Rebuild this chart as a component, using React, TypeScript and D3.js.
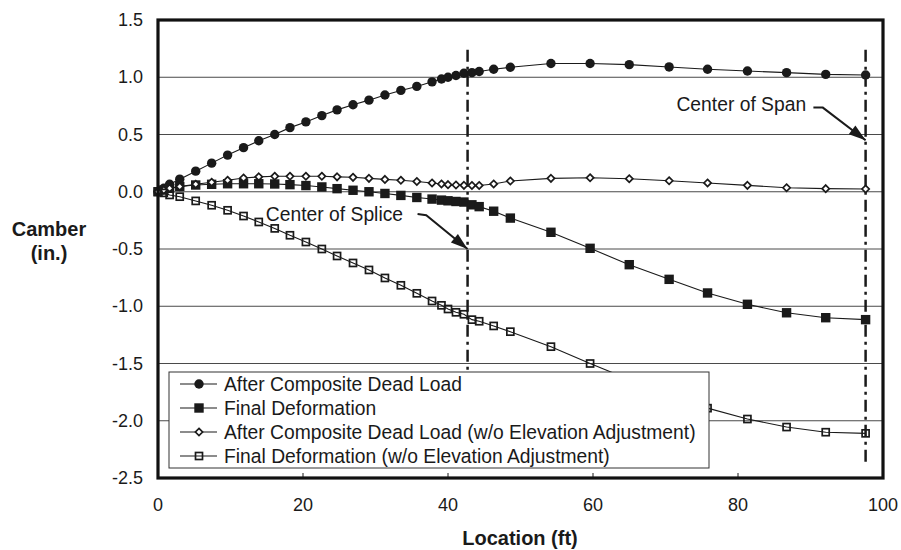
import * as d3 from "d3";

// station locations (ft) shared by all four series
const locations = [
  0, 0.8, 1.6, 3.0, 5.2, 7.4, 9.6, 11.8, 13.9, 16.1, 18.2, 20.4, 22.6, 24.7,
  26.9, 29.1, 31.3, 33.5, 35.7, 37.8, 39.1, 40.0, 41.1, 42.2, 43.3, 44.3, 46.3,
  48.6, 54.2, 59.6, 65.0, 70.5, 75.8, 81.3, 86.7, 92.1, 97.6,
];

const afterCompositeDL = [
  0.0, 0.03, 0.065, 0.11, 0.18, 0.25, 0.32, 0.385, 0.445, 0.5, 0.56, 0.61,
  0.665, 0.715, 0.76, 0.8, 0.845, 0.885, 0.92, 0.96, 0.985, 1.0, 1.015, 1.035,
  1.04, 1.05, 1.07, 1.087, 1.12, 1.12, 1.11, 1.09, 1.07, 1.055, 1.04, 1.025,
  1.02,
];

const finalDeformation = [
  0.0, 0.015, 0.03, 0.046, 0.059, 0.065, 0.07, 0.07, 0.07, 0.068, 0.062, 0.054,
  0.042, 0.027, 0.013, 0.0, -0.015, -0.032, -0.05, -0.064, -0.073, -0.079,
  -0.085, -0.09, -0.114, -0.13, -0.17, -0.23, -0.354, -0.494, -0.637, -0.765,
  -0.884, -0.983, -1.057, -1.1, -1.117,
];

const afterCompositeDLNoAdj = [
  0.0, 0.015, 0.03, 0.045, 0.066, 0.083, 0.1, 0.12, 0.13, 0.135, 0.135, 0.135,
  0.135, 0.13, 0.126, 0.117, 0.108, 0.1, 0.09, 0.077, 0.068, 0.062, 0.059,
  0.056, 0.055, 0.055, 0.068, 0.094, 0.117, 0.122, 0.114, 0.096, 0.077, 0.056,
  0.035, 0.027, 0.024,
];

const finalDeformationNoAdj = [
  0.0, -0.01, -0.028, -0.043, -0.08, -0.118, -0.162, -0.212, -0.264, -0.32,
  -0.38, -0.439, -0.5, -0.561, -0.622, -0.683, -0.753, -0.817, -0.887, -0.954,
  -0.992, -1.024, -1.053, -1.07, -1.117, -1.131, -1.172, -1.222, -1.353, -1.5,
  -1.64, -1.77, -1.89, -1.985, -2.055, -2.1, -2.11,
];

const seriesNames = [
  "After Composite Dead Load",
  "Final Deformation",
  "After Composite Dead Load (w/o Elevation Adjustment)",
  "Final Deformation (w/o Elevation Adjustment)",
];
const seriesMarkers = ["circle", "square", "diamond", "openSquare"];

const xTicks = [0, 20, 40, 60, 80, 100];
const yTicks = [1.5, 1.0, 0.5, 0.0, -0.5, -1.0, -1.5, -2.0, -2.5];

// vertical reference lines: splice and midspan
const refLines = [
  { x: 42.7, y0: 1.24, y1: -2.4 },
  { x: 97.6, y0: 1.24, y1: -2.4 },
];

// annotation callouts: label end, elbow, arrow tip (data coords)
const callouts = [
  { label: "Center of Splice", tx: 33.8, ty: -0.2, pts: [[35.8, -0.195], [37.0, -0.205], [42.7, -0.5]] },
  { label: "Center of Span", tx: 89.4, ty: 0.76, pts: [[90.4, 0.735], [91.7, 0.735], [97.6, 0.45]] },
];

const W = 901;
const H = 550;
const M = { left: 158, right: 883, top: 20, bottom: 478 };
const FONT = "'Liberation Sans', Arial, Helvetica, sans-serif";
const INK = "#1a1a1a";

function Marker({ kind, x, y }: { kind: string; x: number; y: number }) {
  if (kind === "circle") return <circle cx={x} cy={y} r={4.7} fill={INK} />;
  if (kind === "square")
    return <rect x={x - 4.7} y={y - 4.7} width={9.4} height={9.4} fill={INK} />;
  if (kind === "diamond")
    return (
      <path
        d={`M${x},${y - 3.6}L${x + 3.6},${y}L${x},${y + 3.6}L${x - 3.6},${y}Z`}
        fill="#fff"
        stroke={INK}
        strokeWidth={1.7}
      />
    );
  return (
    <rect
      x={x - 3.5}
      y={y - 3.5}
      width={7}
      height={7}
      fill="none"
      stroke={INK}
      strokeWidth={1.7}
    />
  );
}

function arrowHead(p: number[], q: number[], len = 17, half = 5.5) {
  const dx = q[0] - p[0];
  const dy = q[1] - p[1];
  const d = Math.hypot(dx, dy);
  const ux = dx / d;
  const uy = dy / d;
  const bx = q[0] - ux * len;
  const by = q[1] - uy * len;
  return `M${q[0]},${q[1]}L${bx - uy * half},${by + ux * half}L${bx + uy * half},${by - ux * half}Z`;
}

export default function App() {
  const x = d3.scaleLinear().domain([0, 100]).range([M.left, M.right]);
  const y = d3.scaleLinear().domain([-2.5, 1.5]).range([M.bottom, M.top]);

  const allSeries = [
    afterCompositeDL,
    finalDeformation,
    afterCompositeDLNoAdj,
    finalDeformationNoAdj,
  ];

  const line = d3
    .line<number>()
    .x((_, i) => x(locations[i]))
    .y((d) => y(d));

  const legend = { x: 169, y: 372, w: 540, h: 96, row: 24 };

  return (
    <svg
      width={W}
      height={H}
      style={{ position: "fixed", left: 0, top: 0, background: "#fff" }}
      fontFamily={FONT}
    >
      <rect width={W} height={H} fill="#fff" />

      {/* gridlines */}
      {yTicks.map((t) => (
        <line
          key={"g" + t}
          x1={M.left}
          x2={M.right}
          y1={y(t)}
          y2={y(t)}
          stroke="#4a4a4a"
          strokeWidth={1}
        />
      ))}

      {/* x ticks pointing inward */}
      {xTicks.slice(1, -1).map((t) => (
        <line
          key={"xt" + t}
          x1={x(t)}
          x2={x(t)}
          y1={M.bottom}
          y2={M.bottom - 5}
          stroke={INK}
          strokeWidth={1}
        />
      ))}

      {/* reference lines */}
      {refLines.map((r, i) => (
        <line
          key={"ref" + i}
          x1={x(r.x)}
          x2={x(r.x)}
          y1={y(r.y0)}
          y2={y(r.y1)}
          stroke={INK}
          strokeWidth={2.5}
          strokeDasharray="12,5,3,5"
        />
      ))}

      {/* series lines */}
      {allSeries.map((s, i) => (
        <path
          key={"l" + i}
          d={line(s) || ""}
          fill="none"
          stroke={INK}
          strokeWidth={1.1}
        />
      ))}

      {/* series markers */}
      {allSeries.map((s, i) =>
        s.map((v, j) => (
          <Marker
            key={`m${i}-${j}`}
            kind={seriesMarkers[i]}
            x={x(locations[j])}
            y={y(v)}
          />
        ))
      )}

      {/* callouts */}
      {callouts.map((c, i) => {
        const pts = c.pts.map((p) => [x(p[0]), y(p[1])]);
        const n = pts.length;
        return (
          <g key={"c" + i}>
            <text
              x={x(c.tx)}
              y={y(c.ty)}
              textAnchor="end"
              dominantBaseline="central"
              fontSize={19.3}
              fill={INK}
            >
              {c.label}
            </text>
            <path
              d={"M" + pts.map((p) => p.join(",")).join("L")}
              fill="none"
              stroke={INK}
              strokeWidth={2}
            />
            <path d={arrowHead(pts[n - 2], pts[n - 1])} fill={INK} />
          </g>
        );
      })}

      {/* legend */}
      <rect
        x={legend.x}
        y={legend.y}
        width={legend.w}
        height={legend.h}
        fill="#fff"
        stroke="#333"
        strokeWidth={1}
      />
      {seriesNames.map((name, i) => {
        const cy = legend.y + 12 + i * legend.row;
        return (
          <g key={"lg" + i}>
            <line x1={180} x2={217} y1={cy} y2={cy} stroke={INK} strokeWidth={1.1} />
            <Marker kind={seriesMarkers[i]} x={199} y={cy} />
            <text
              x={224}
              y={cy}
              dominantBaseline="central"
              fontSize={19.3}
              fill={INK}
            >
              {name}
            </text>
          </g>
        );
      })}

      {/* plot border */}
      <rect
        x={M.left}
        y={M.top}
        width={M.right - M.left}
        height={M.bottom - M.top}
        fill="none"
        stroke="#111"
        strokeWidth={3.2}
      />

      {/* tick labels */}
      {yTicks.map((t) => (
        <text
          key={"yl" + t}
          x={M.left - 15}
          y={y(t)}
          textAnchor="end"
          dominantBaseline="central"
          fontSize={18}
          fill={INK}
        >
          {t.toFixed(1)}
        </text>
      ))}
      {xTicks.map((t) => (
        <text
          key={"xl" + t}
          x={x(t)}
          y={505}
          textAnchor="middle"
          dominantBaseline="central"
          fontSize={18}
          fill={INK}
        >
          {t}
        </text>
      ))}

      {/* axis titles */}
      <text
        x={520}
        y={538}
        textAnchor="middle"
        dominantBaseline="central"
        fontSize={20}
        fontWeight="bold"
        fill={INK}
      >
        Location (ft)
      </text>
      <text
        x={49}
        textAnchor="middle"
        fontSize={20}
        fontWeight="bold"
        fill={INK}
      >
        <tspan x={49} y={229} dominantBaseline="central">
          Camber
        </tspan>
        <tspan x={49} y={253} dominantBaseline="central">
          (in.)
        </tspan>
      </text>
    </svg>
  );
}
